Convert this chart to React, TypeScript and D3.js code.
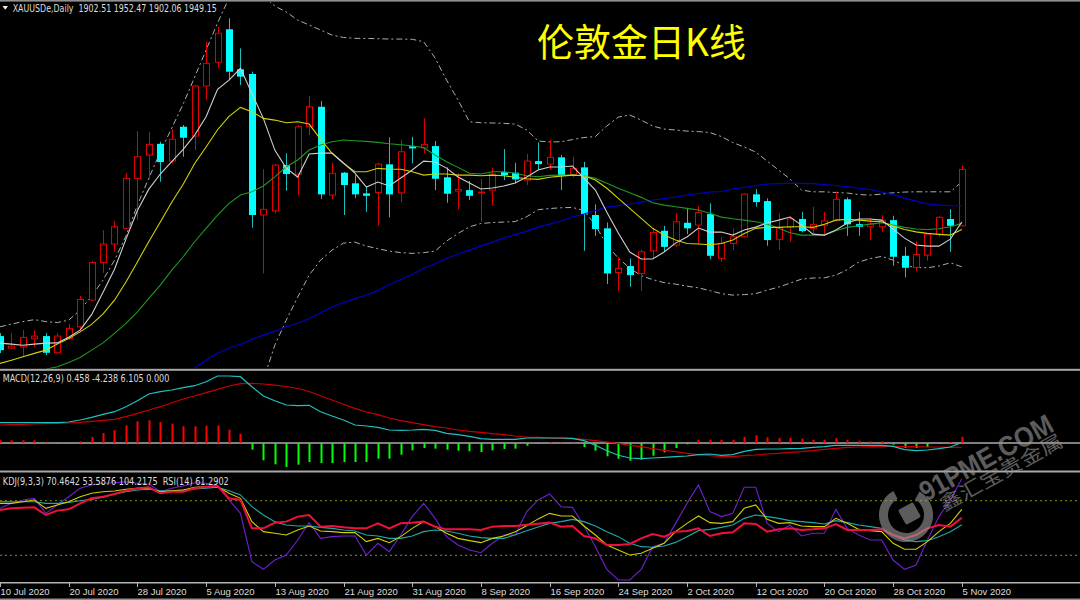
import React from "react";
import * as d3 from "d3";

// ---------- categories / ticks ----------
const tickIdx = [0, 6, 12, 18, 24, 30, 36, 42, 48, 54, 60, 66, 72, 78, 84];
const tickLabels = ["10 Jul 2020", "20 Jul 2020", "28 Jul 2020", "5 Aug 2020", "13 Aug 2020", "21 Aug 2020", "31 Aug 2020", "8 Sep 2020", "16 Sep 2020", "24 Sep 2020", "2 Oct 2020", "12 Oct 2020", "20 Oct 2020", "28 Oct 2020", "5 Nov 2020"];

// ---------- OHLC (XAUUSD daily) ----------
const open = [1811.3,1801.4,1802.4,1809.0,1811.3,1797.5,1809.4,1819.0,1841.1,1872.2,
1887.4,1900.4,1941.7,1961.0,1970.3,1956.0,1984.4,1976.7,2018.1,2037.7,
2065.0,2031.9,2028.0,1911.4,1914.9,1952.7,1945.3,1984.4,2000.9,1927.9,
1946.4,1937.6,1929.3,1930.1,1953.3,1929.8,1968.2,1967.0,1968.4,1942.6,
1931.2,1932.0,1929.8,1932.0,1946.9,1946.4,1940.3,1956.0,1953.5,1959.1,
1945.0,1950.8,1911.4,1900.4,1863.9,1869.2,1863.1,1881.8,1898.4,1886.6,
1905.0,1903.1,1912.2,1875.6,1887.9,1893.4,1928.5,1922.9,1891.3,1901.2,
1908.1,1900.4,1903.1,1907.2,1924.4,1903.9,1901.7,1901.7,1907.2,1877.7,
1868.1,1878.3,1895.4,1908.1,1902.51];
const high = [1813.8,1813.8,1816.2,1816.2,1813.8,1813.8,1821.2,1844.4,1873.6,1898.9,
1906.4,1945.9,1980.8,1980.3,1972.0,1982.3,1985.8,2018.9,2054.7,2067.1,
2074.1,2049.2,2030.0,1949.2,1953.5,1962.4,1985.8,2009.8,2005.7,1954.6,
1947.0,1944.4,1934.8,1954.6,1975.6,1973.4,1976.1,1991.3,1972.6,1950.8,
1945.9,1939.5,1941.1,1950.8,1965.9,1954.6,1961.8,1971.5,1973.4,1961.0,
1959.6,1955.4,1920.2,1905.3,1876.9,1875.5,1883.0,1900.4,1902.5,1912.8,
1916.9,1918.8,1921.0,1893.2,1900.4,1929.3,1932.9,1925.2,1912.8,1910.0,
1914.1,1918.2,1914.1,1931.2,1926.0,1914.1,1908.6,1911.4,1910.8,1885.1,
1889.9,1896.2,1910.5,1916.3,1952.47];
const low = [1797.2,1800.5,1793.9,1802.4,1795.6,1797.0,1808.5,1816.2,1840.5,1863.6,
1881.0,1899.5,1907.2,1940.9,1938.9,1954.1,1959.6,1965.1,2006.5,2032.7,
2023.0,2018.9,1900.9,1863.1,1912.8,1931.5,1927.9,1977.5,1924.6,1924.4,
1911.4,1925.4,1914.1,1902.5,1909.5,1921.9,1954.1,1962.4,1932.0,1921.5,
1916.1,1923.8,1905.8,1919.6,1940.3,1937.6,1936.2,1948.6,1949.2,1932.0,
1942.6,1881.8,1894.2,1854.3,1848.8,1852.1,1848.8,1875.0,1881.0,1885.1,
1895.6,1887.4,1874.7,1872.7,1882.4,1892.9,1918.2,1886.0,1882.4,1889.3,
1897.0,1896.7,1894.8,1906.0,1894.2,1894.2,1890.7,1897.6,1869.4,1859.8,
1865.0,1873.6,1893.4,1881.0,1902.06];
const close = [1799.7,1803.0,1810.2,1811.3,1797.5,1811.3,1817.7,1841.6,1872.2,1887.4,
1901.7,1941.7,1959.6,1969.8,1955.2,1974.0,1975.3,2018.1,2036.8,2061.7,
2029.9,2025.8,1911.4,1916.1,1952.7,1945.3,1984.4,2000.9,1928.5,1945.9,
1936.2,1928.5,1927.3,1953.5,1928.5,1963.7,1966.5,1969.8,1941.4,1929.0,
1932.6,1927.3,1930.4,1945.3,1944.4,1940.9,1956.0,1953.5,1959.1,1943.9,
1950.0,1912.2,1899.8,1863.1,1867.3,1861.7,1881.0,1897.0,1885.1,1905.8,
1900.4,1913.6,1877.7,1887.9,1893.4,1928.7,1922.1,1890.7,1901.2,1908.1,
1898.1,1903.7,1906.6,1924.4,1903.7,1901.7,1903.9,1907.2,1876.9,1867.8,
1878.8,1895.6,1909.5,1902.5,1949.15];

// ---------- moving averages / bands ----------
const ma5 = [1805.5,1804.7,1803.8,1804.7,1805.5,1805.7,1810.4,1816.2,1829.0,1847.6,
1866.6,1891.5,1915.2,1932.8,1945.3,1955.5,1965.7,1977.5,1992.7,2015.3,
2023.0,2032.7,2012.0,1991.3,1965.1,1950.2,1942.8,1961.8,1962.6,1962.6,
1954.4,1946.1,1934.5,1938.7,1935.4,1942.0,1948.6,1956.0,1955.2,1950.2,
1942.8,1937.8,1932.9,1933.7,1935.4,1937.8,1942.8,1948.6,1951.1,1951.1,
1951.9,1942.0,1932.0,1913.8,1896.5,1880.8,1875.0,1875.0,1880.8,1888.2,
1893.2,1900.6,1897.3,1897.3,1894.8,1899.0,1901.4,1904.8,1907.2,1909.7,
1903.1,1895.6,1894.8,1899.0,1904.8,1908.1,1908.1,1907.2,1899.8,1892.3,
1886.6,1885.7,1885.7,1891.5,1905.6];
const ma10 = [1788.7,1791.4,1794.2,1797.0,1799.7,1804.7,1809.4,1814.8,1821.0,1829.7,
1841.0,1856.0,1872.6,1889.5,1905.7,1922.0,1936.9,1954.0,1967.7,1981.9,
1993.0,2000.4,1996.8,1991.3,1989.9,1987.7,1988.5,1986.6,1974.0,1962.4,
1954.1,1947.2,1947.2,1950.0,1949.2,1949.2,1947.2,1944.4,1945.3,1945.3,
1944.4,1944.4,1943.9,1944.4,1943.9,1942.6,1941.4,1940.9,1942.6,1943.6,
1944.4,1943.9,1940.3,1933.5,1925.2,1916.9,1908.6,1900.4,1894.8,1890.7,
1887.9,1887.4,1886.8,1887.9,1890.7,1896.2,1900.4,1901.2,1901.2,1901.7,
1901.7,1901.2,1903.7,1907.2,1907.8,1907.2,1906.4,1905.8,1902.3,1899.5,
1897.5,1896.2,1895.4,1894.8,1899.5];
const ma20 = [null,null,null,null,1783.8,1785.9,1789.5,1793.7,1799.7,1805.7,
1813.5,1821.8,1831.4,1842.5,1853.5,1865.9,1876.9,1889.3,1900.4,1911.4,
1921.0,1927.9,1930.6,1935.4,1943.0,1951.3,1956.9,1965.1,1969.3,1972.0,
1973.4,1972.8,1972.3,1971.5,1970.3,1969.5,1968.7,1967.0,1961.0,1955.5,
1950.8,1945.9,1945.3,1947.2,1947.2,1945.9,1943.9,1943.0,1944.2,1944.4,
1944.4,1943.9,1941.7,1937.6,1933.5,1929.8,1926.0,1921.6,1919.6,1918.2,
1916.9,1915.5,1912.8,1909.7,1908.3,1907.2,1905.8,1903.9,1900.4,1896.7,
1894.8,1894.8,1894.8,1898.4,1901.2,1902.5,1903.9,1905.0,1903.1,1901.2,
1899.8,1899.5,1900.0,1901.7,1904.5];
const ma60 = [null,null,null,null,null,null,null,null,null,null,
null,null,null,null,null,null,null,1785.2,1791.4,1797.2,
1801.4,1804.3,1808.6,1812.1,1815.4,1819.0,1822.0,1825.8,1830.7,1835.5,
1839.0,1842.3,1845.2,1848.9,1853.9,1858.0,1862.2,1867.1,1871.2,1875.4,
1879.1,1882.4,1885.7,1889.0,1892.4,1895.2,1898.1,1901.4,1903.9,1906.4,
1909.7,1912.2,1915.1,1918.0,1919.2,1920.5,1922.1,1923.8,1925.0,1926.3,
1927.9,1929.2,1930.4,1930.8,1932.9,1934.1,1935.8,1937.0,1937.4,1937.6,
1937.6,1937.4,1936.6,1935.8,1934.9,1933.5,1932.5,1930.4,1928.3,1925.4,
1922.9,1920.5,1919.6,1919.2,1919.1];
const bbUpper = [1819.0,1821.2,1823.3,1824.9,1823.3,1822.5,1824.5,1832.8,1844.4,1857.6,
1874.1,1894.0,1919.6,1941.9,1963.5,1983.3,2003.2,2025.5,2047.8,2070.2,
2090.8,2099.1,2097.5,2092.5,2084.2,2079.3,2072.6,2068.5,2064.4,2060.2,
2058.2,2057.5,2057.4,2057.2,2056.9,2056.9,2056.7,2054.7,2041.2,2023.0,
2006.5,1988.5,1987.7,1987.5,1987.2,1986.6,1981.7,1972.6,1971.8,1972.0,
1973.8,1975.5,1976.3,1985.0,1992.4,1994.1,1989.9,1985.0,1982.5,1981.7,
1980.8,1980.4,1979.6,1976.3,1971.3,1967.6,1963.5,1956.0,1948.6,1941.1,
1932.0,1930.6,1930.6,1930.0,1929.6,1928.3,1927.9,1928.7,1929.8,1930.4,
1930.6,1930.6,1930.6,1930.6,1938.9];
const bbLower = [null,null,null,null,null,null,null,null,null,null,
null,null,null,null,null,null,null,null,null,null,
null,null,1758.4,1774.9,1803.8,1824.5,1843.5,1861.7,1874.1,1882.4,
1888.2,1889.0,1885.7,1883.6,1881.6,1880.3,1879.7,1880.3,1881.6,1889.9,
1896.1,1901.7,1904.4,1905.2,1905.6,1906.0,1910.0,1915.8,1916.8,1917.4,
1917.7,1915.1,1903.1,1886.6,1875.8,1867.5,1861.3,1858.0,1855.5,1854.3,
1852.6,1851.2,1848.9,1846.4,1845.2,1845.6,1846.4,1849.3,1851.8,1855.1,
1858.4,1859.3,1859.5,1861.7,1866.3,1872.5,1875.4,1877.2,1874.1,1869.6,
1868.1,1867.8,1869.3,1871.9,1868.6];

// ---------- MACD(12,26,9) ----------
const macdDif = [20.3,20.3,20.3,20.3,20.3,20.3,21,23,25.7,28.7,
31.3,36.3,42.3,49,51.3,53,55.3,57.3,61.3,67,
67,66.3,56.3,47,42.3,38,37.3,37.7,31.3,27,
23,18,17,15.7,13,12.7,13,13.7,12.7,9.7,
8.3,6.7,4.3,3.7,3.7,3.7,5,5,5,5,
4.7,2.3,-2.3,-7.7,-12.3,-15,-15.7,-15,-14.3,-13.7,
-13,-11.7,-11,-12.3,-11.7,-8.3,-6.3,-6,-6,-5.7,
-5.3,-4.3,-3.7,-2.3,-2.3,-2.3,-2.3,-2.3,-3.3,-6.7,
-7.7,-7,-5.7,-4,0.458];
const macdDea = [18,18.3,18.7,19,19.3,19.7,20,20.7,21.7,22.7,
23.7,26.3,29.7,33,36.3,40.3,44,47,50.3,53.7,
57,59.3,59.6,59,57.8,56.5,54.5,51.5,47.2,43,
38.8,34.6,31,28.3,25,22.3,20.3,18.3,16.3,15,
13,11.7,10.7,9.3,8.3,7,6,5.7,5,4.7,
4.3,3.7,2.3,1,-0.3,-2.3,-3.7,-5.7,-7.3,-8.7,
-10.3,-11.7,-12.7,-13.5,-13.7,-12.7,-12,-11,-10.3,-9.3,
-8.7,-7.7,-6.3,-5.3,-4.3,-4,-3.7,-3.3,-3.3,-3.7,
-3.7,-4,-4,-4.3,-4.238];
const macdHist = [2.7,2.7,2.7,2.7,0.5,-0.3,-0.3,1.7,6,10,
12.7,17.7,21.7,22.7,21,19.3,16.7,16.7,17.3,17.7,
13.3,9.3,-6.7,-17.3,-21.3,-24,-21.7,-19,-20,-20,
-19,-19,-19,-15.7,-15.7,-11.7,-7.3,-5,-5.7,-6.7,
-7.7,-8.3,-9,-7.3,-6,-5.7,-2.7,-1,1,0.3,
0.3,-4,-7.7,-13.3,-15.7,-17.7,-16.7,-12.7,-9.3,-5,
-1.3,3.3,3.3,3.3,3.3,6,7.7,5.7,5,5,
4.3,3.3,3.3,5,3.3,2.3,1.7,1.7,-1.7,-5,
-5,-4,-1,1,6.105];

// ---------- KDJ(9,3,3) & RSI(14) ----------
const kdjK = [77.1,77.1,78.9,80.8,71.6,75.3,78.9,84.4,88.1,89.9,
90.7,92.5,93.6,93.6,89.9,91.0,91.8,94.7,95.4,95.4,
88.1,82.6,57.0,46.0,44.2,42.3,47.8,52.2,46.7,46.0,
44.9,44.9,35.0,38.6,33.9,40.5,49.6,57.0,51.5,44.2,
38.6,36.1,33.9,38.6,41.2,46.0,52.5,60.0,66.1,63.2,
63.2,52.2,42.3,31.3,25.8,20.3,22.2,27.7,33.2,46.0,
55.1,63.2,55.9,55.1,57.0,71.6,75.3,59.5,55.1,55.9,
52.2,51.5,51.5,60.6,55.1,48.5,47.1,46.0,33.2,26.6,
26.6,35.0,46.0,55.1,70.4642];
const kdjD = [78.9,78.9,78.9,78.9,77.1,77.1,78.2,80.0,81.5,83.7,
87.4,89.9,91.8,92.5,91.0,91.0,91.8,92.8,93.6,94.7,
91.0,86.3,73.4,64.3,57.0,53.3,52.2,52.2,50.7,49.6,
47.8,46.7,42.3,41.2,38.6,38.6,41.2,46.0,47.8,46.7,
44.2,41.2,39.4,38.6,38.6,42.5,47.0,51.2,55.1,57.0,
59.5,57.0,52.2,46.0,40.5,33.2,29.5,28.8,30.2,34.2,
40.5,47.1,48.5,50.7,53.3,60.6,64.3,62.5,60.6,58.1,
57.0,55.9,54.4,58.1,55.9,53.3,51.5,49.6,42.3,36.8,
35.0,36.1,40.5,46.0,53.5876];
const kdjJ = [71.6,77.1,80.8,82.6,66.1,75.3,84.4,93.6,97.3,99.1,
99.8,100.9,99.1,98.4,89.9,93.6,96.2,99.8,99.1,96.2,
80.8,66.1,13.0,4.6,14.8,20.3,36.8,55.9,38.6,40.5,
41.2,41.2,20.3,33.2,24.0,42.3,62.5,77.1,60.6,40.5,
31.3,25.8,22.9,33.2,42.3,42.3,68.0,80.8,87.4,73.4,
72.7,52.2,29.5,4.6,-7.1,-7.1,4.6,29.5,33.2,55.1,
77.1,97.3,68.0,62.5,66.1,94.7,94.7,55.1,46.0,53.3,
41.2,44.2,44.2,70.5,49.6,42.3,36.8,36.8,14.8,4.6,
9.3,36.8,62.5,80.8,104.2175];
const rsi14 = [69.8,71.6,72.3,72.7,64.3,69.1,70.5,77.1,82.6,84.4,
87.4,91.0,93.6,94.7,88.1,89.9,89.9,93.6,95.4,96.2,
82.6,80.8,49.6,49.6,55.9,57.0,62.5,64.3,51.5,52.2,
50.7,49.6,49.6,55.1,49.6,55.1,55.9,57.0,51.5,48.5,
48.5,48.5,47.8,51.5,52.2,52.2,53.5,54.8,55.9,51.5,
52.2,41.2,38.6,31.3,31.3,32.4,38.6,43.4,40.5,46.0,
46.7,49.6,41.2,44.2,45.2,55.1,54.4,46.0,48.5,49.6,
47.8,48.5,49.6,54.4,47.8,47.8,47.8,48.5,42.3,38.6,
42.3,49.6,53.3,51.5,61.2902];
const kdjLevels = [80, 20];

const RED = "#e00000";
const CYAN = "#00ffff";
const CYAN_WICK = "#1ebebe";
const TXT = "#dcdcdc";

type Num = number | null;

export default function App() {
  const x = d3.scaleLinear().domain([0, 84]).range([0, 961.8]);
  const yP = d3.scaleLinear().domain([1784.1, 2089.19]).range([369, 0]);
  const yM = d3.scaleLinear().domain([-28, 72]).range([471, 371]);
  const yK = d3.scaleLinear().domain([0, 100]).range([573.5, 482.5]);

  const mk = (ys: d3.ScaleLinear<number, number>) =>
    d3
      .line<Num>()
      .defined((d) => d !== null && d !== undefined)
      .x((_, i) => x(i))
      .y((d) => ys(d as number));
  const lp = mk(yP);
  const lm = mk(yM);
  const lk = mk(yK);

  const bbDash = "6 3 2 3";

  return (
    <svg
      width={1080}
      height={600}
      style={{ display: "block", position: "absolute", left: 0, top: 0, background: "#000" }}
    >
      <style>{"body{margin:0;background:#000}"}</style>
      <defs>
        <clipPath id="cMain">
          <rect x={0} y={2} width={1080} height={366.5} />
        </clipPath>
        <clipPath id="cMacd">
          <rect x={0} y={371} width={1080} height={99.5} />
        </clipPath>
        <clipPath id="cKdj">
          <rect x={0} y={472.5} width={1080} height={109.5} />
        </clipPath>
      </defs>
      <rect x={0} y={0} width={1080} height={600} fill="#000" />

      {/* ---------- main panel ---------- */}
      <g clipPath="url(#cMain)">
        <path d={lp(bbUpper) || ""} fill="none" stroke="#9fb2b2" strokeWidth={1} strokeDasharray={bbDash} />
        <path d={lp(bbLower) || ""} fill="none" stroke="#9fb2b2" strokeWidth={1} strokeDasharray={bbDash} />
        {open.map((o, i) => {
          const c = close[i];
          const bull = c >= o;
          const cx = Math.round(x(i));
          const yo = yP(o);
          const yc = yP(c);
          return (
            <g key={"c" + i}>
              <line
                x1={cx + 0.5}
                x2={cx + 0.5}
                y1={yP(high[i])}
                y2={yP(low[i])}
                stroke={bull ? RED : CYAN_WICK}
                strokeWidth={1}
              />
              {bull ? (
                <rect
                  x={cx - 2.5}
                  y={yc}
                  width={6}
                  height={Math.max(0.8, yo - yc)}
                  fill="#000"
                  stroke={RED}
                  strokeWidth={1}
                />
              ) : (
                <rect x={cx - 3} y={yo} width={7} height={Math.max(1, yc - yo)} fill={CYAN} />
              )}
            </g>
          );
        })}
        <path d={lp(ma60) || ""} fill="none" stroke="#0000d0" strokeWidth={1.1} />
        <path d={lp(ma20) || ""} fill="none" stroke="#1f9a1f" strokeWidth={1.1} />
        <path d={lp(ma10) || ""} fill="none" stroke="#d2d200" strokeWidth={1.1} />
        <path d={lp(ma5) || ""} fill="none" stroke="#cfcfcf" strokeWidth={1.1} />
      </g>

      {/* header */}
      <polygon points="2.5,6 8,6 5.25,9.8" fill="#f0f0f0" />
      <text x={12.7} y={12} fontSize={10.5} fill={TXT} fontFamily="DejaVu Sans" textLength={204} lengthAdjust="spacingAndGlyphs" style={{ whiteSpace: "pre" }}>
        {"XAUUSDe,Daily  1902.51 1952.47 1902.06 1949.15"}
      </text>

      {/* title */}
      <text x={537} y={55.5} fontSize={38} fill="#ffff00" fontFamily="'Noto Sans CJK SC'" textLength={209} lengthAdjust="spacingAndGlyphs">
        伦敦金日K线
      </text>

      {/* ---------- MACD panel ---------- */}
      <g clipPath="url(#cMacd)">
        <rect x={0} y={442} width={1080} height={2} fill="#808080" />
        {macdHist.map((v, i) => {
          const cx = Math.round(x(i));
          const y0 = yM(0);
          const y1 = yM(v);
          return (
            <rect
              key={"h" + i}
              x={cx - 0.5}
              y={Math.min(y0, y1)}
              width={2}
              height={Math.max(0.6, Math.abs(y1 - y0))}
              fill={v >= 0 ? "#ff0000" : "#00ff00"}
            />
          );
        })}
        <path d={lm(macdDea) || ""} fill="none" stroke="#c80000" strokeWidth={1.2} />
        <path d={lm(macdDif) || ""} fill="none" stroke="#20c0c0" strokeWidth={1.2} />
      </g>
      <text x={2.7} y={381.5} fontSize={10.5} fill={TXT} fontFamily="DejaVu Sans" textLength={166.6} lengthAdjust="spacingAndGlyphs">
        MACD(12,26,9) 0.458 -4.238 6.105 0.000
      </text>

      {/* ---------- KDJ / RSI panel ---------- */}
      <g clipPath="url(#cKdj)">
        {kdjLevels.map((lv) => (
          <line key={"lv" + lv} x1={0} x2={1080} y1={yK(lv)} y2={yK(lv)} stroke="#7c9a1a" strokeWidth={1} strokeDasharray="2 3" />
        ))}
        <path d={lk(kdjJ) || ""} fill="none" stroke="#7020d0" strokeWidth={1.1} />
        <path d={lk(kdjD) || ""} fill="none" stroke="#20a8a8" strokeWidth={1.1} />
        <path d={lk(kdjK) || ""} fill="none" stroke="#d0d000" strokeWidth={1.1} />
        <path d={lk(rsi14) || ""} fill="none" stroke="#f0103c" strokeWidth={2} />
      </g>
      <text x={2.8} y={485} fontSize={10.5} fill={TXT} fontFamily="DejaVu Sans" textLength={226} lengthAdjust="spacingAndGlyphs" style={{ whiteSpace: "pre" }}>
        {"KDJ(9,3,3) 70.4642 53.5876 104.2175  RSI(14) 61.2902"}
      </text>

      {/* ---------- separators / axis ---------- */}
      <rect x={0} y={0} width={1080} height={1.6} fill="#909090" />
      <rect x={0} y={368.8} width={1080} height={2} fill="#a8a8a8" />
      <rect x={0} y={470.5} width={1080} height={2} fill="#a8a8a8" />
      <rect x={0} y={582} width={1080} height={1.5} fill="#b4b4b4" />
      <rect x={0} y={598.5} width={1080} height={1.5} fill="#909090" />
      {tickIdx.map((ti, k) => {
        const tx = Math.round(x(ti));
        return (
          <g key={"t" + k}>
            <line x1={tx + 0.5} x2={tx + 0.5} y1={583} y2={587} stroke="#b4b4b4" strokeWidth={1} />
            <text x={tx + 0.5} y={594.5} fontSize={9.5} fill={TXT} fontFamily="'Liberation Sans', Arial">
              {tickLabels[k]}
            </text>
          </g>
        );
      })}

      {/* ---------- watermark ---------- */}
      <g opacity={0.6} fill="#9a9a9a">
        <circle cx={906} cy={515} r={22.5} fill="none" stroke="#9a9a9a" strokeWidth={9} strokeDasharray="118 23" transform="rotate(-60 906 515)" />
        <rect x={901} y={505} width={17} height={17} rx={2} transform="rotate(-29 909.5 513.5)" />
        <text x={926} y={502} transform="rotate(-29 926 502)" fontSize={28} fontWeight="bold" fontFamily="'Liberation Sans', Arial" textLength={148} lengthAdjust="spacingAndGlyphs">
          91PME.COM
        </text>
        <text x={944} y={512} transform="rotate(-29 944 512)" fontSize={19} fontFamily="'Noto Sans CJK SC'" textLength={138} lengthAdjust="spacingAndGlyphs">
          鑫汇宝贵金属
        </text>
      </g>
    </svg>
  );
}
